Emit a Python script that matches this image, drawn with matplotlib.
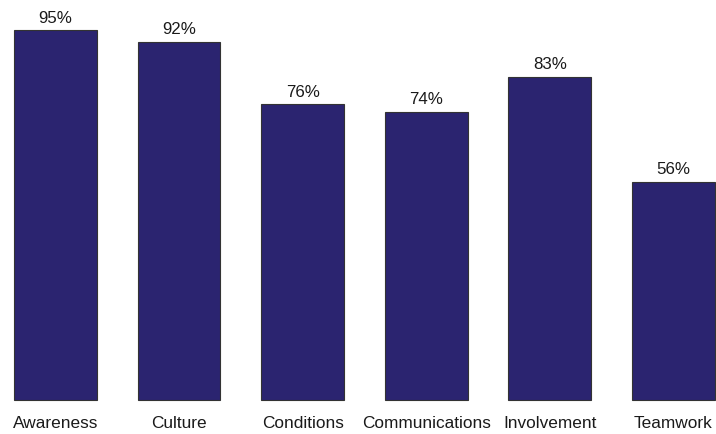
import matplotlib
matplotlib.use("Agg")
import matplotlib.pyplot as plt

categories = ["Awareness", "Culture", "Conditions", "Communications", "Involvement", "Teamwork"]
values = [95, 92, 76, 74, 83, 56]

plt.rcParams['font.family'] = ['Liberation Sans', 'DejaVu Sans']

fig = plt.figure(figsize=(7.16, 4.34), dpi=100)
ax = fig.add_axes([0, 0, 1, 1])
x = list(range(len(categories)))
ax.bar(x, values, width=0.67, color='#2b2470', edgecolor='#333333', linewidth=0.8)

for xi, v in zip(x, values):
    ax.text(xi, v + 1.2, f"{v}%", ha='center', va='bottom', fontsize=12.2, color='#1a1a1a')
for xi, c in zip(x, categories):
    ax.text(xi, -4.2, c, ha='center', va='top', fontsize=12.4, color='#1a1a1a')

ax.set_xlim(-0.449, 5.344)
ax.set_ylim(-8.74, 102.8)
ax.axis('off')

fig.savefig("out.png", dpi=100)
